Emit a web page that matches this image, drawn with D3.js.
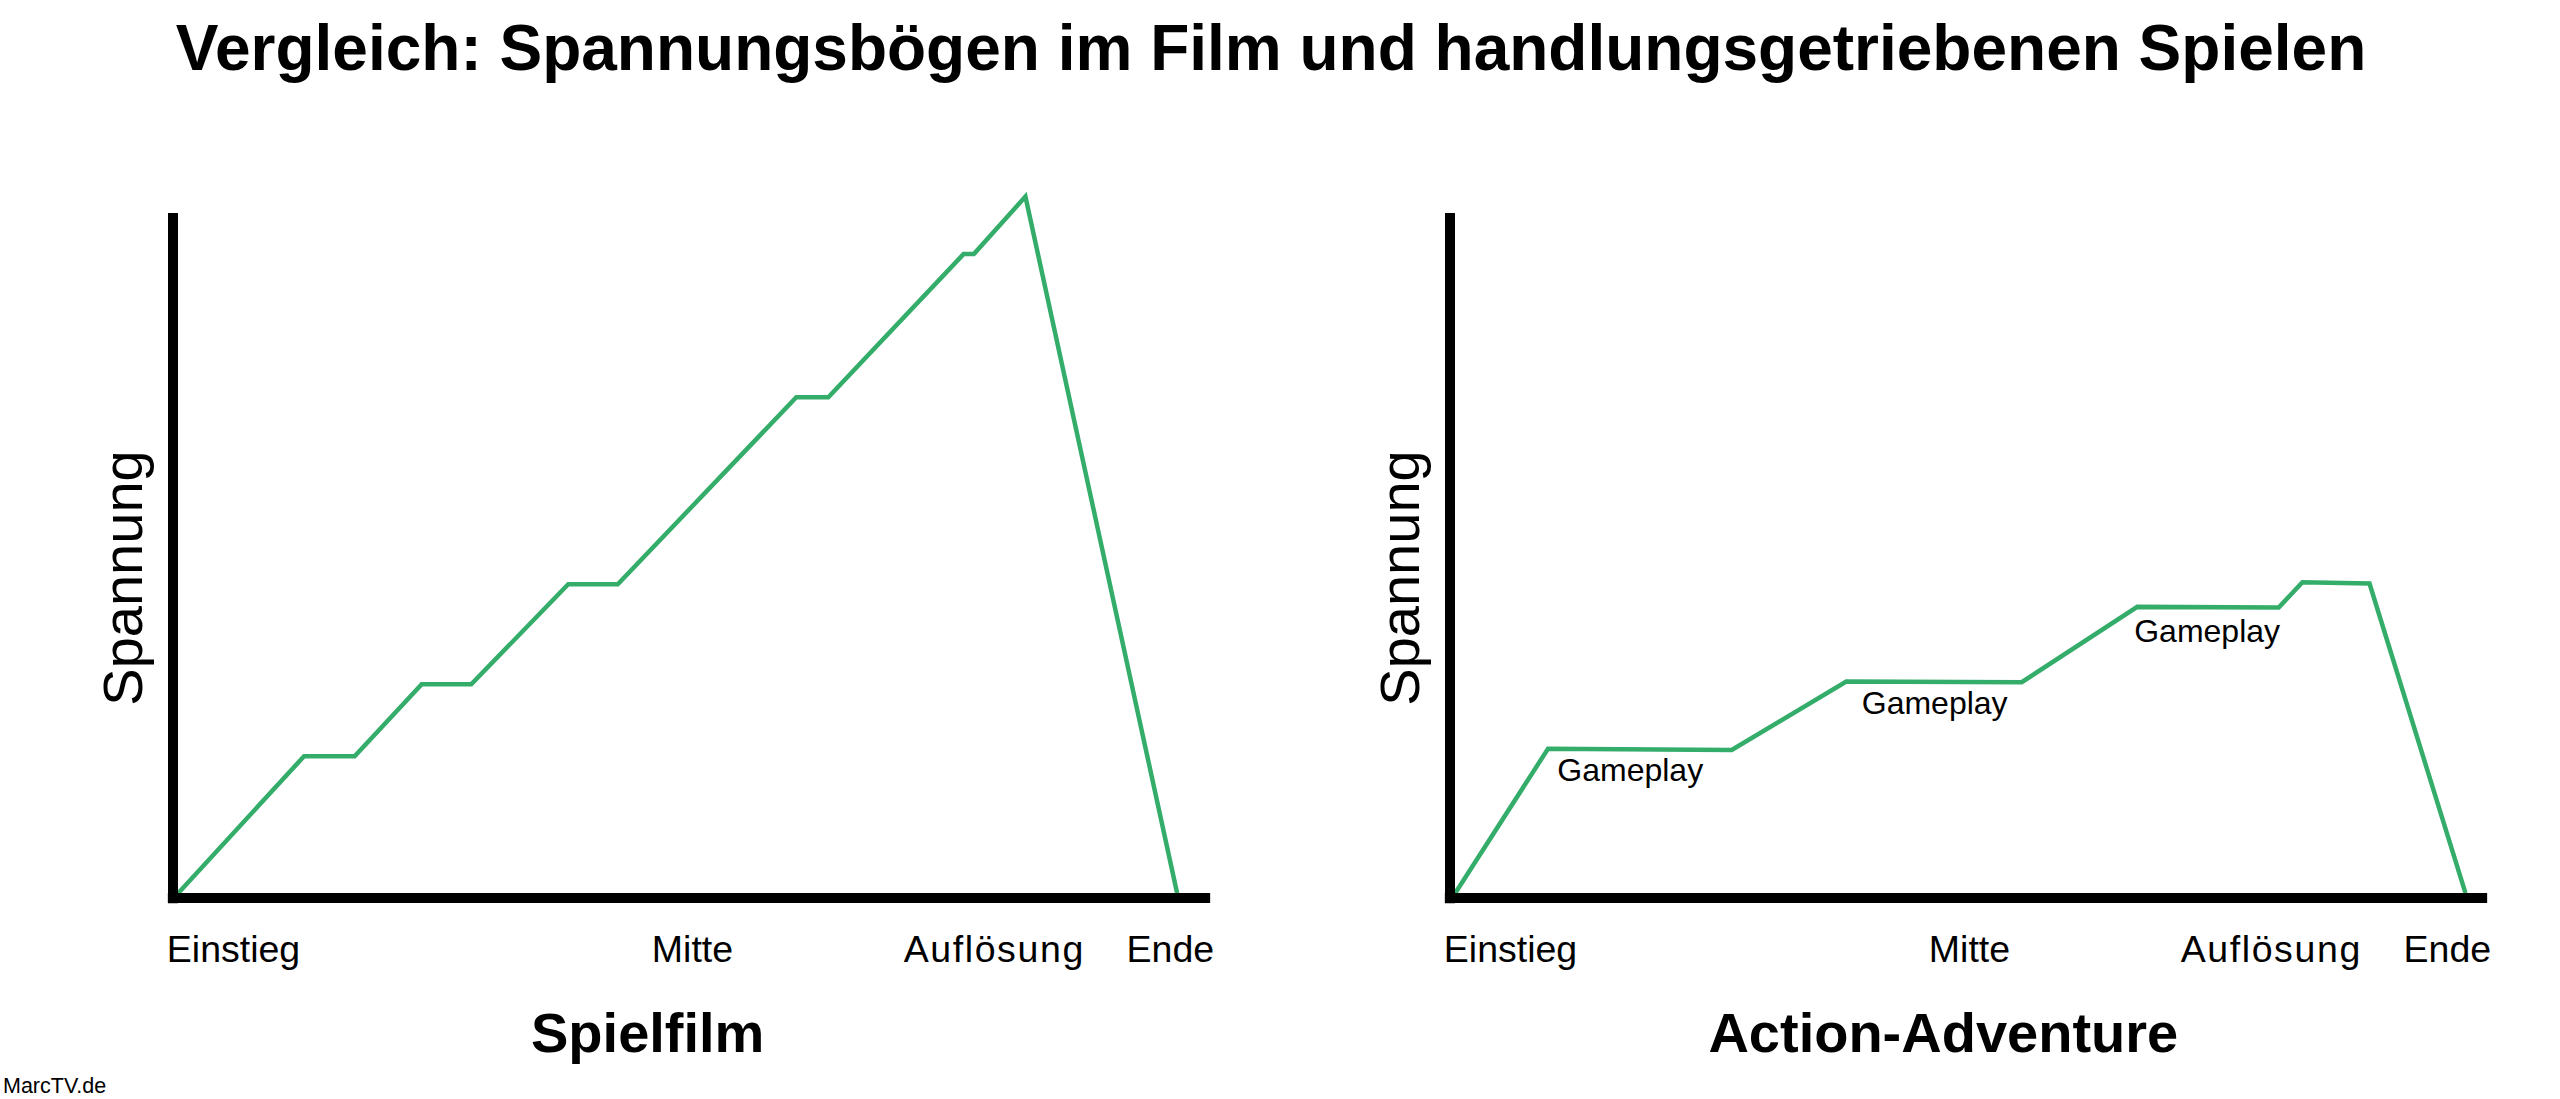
<!DOCTYPE html>
<html>
<head>
<meta charset="utf-8">
<script src="https://cdn.jsdelivr.net/npm/d3@7"></script>
<style>
  html, body { margin: 0; padding: 0; background: #fff; }
  svg { display: block; }
  text { font-family: "Liberation Sans", Arial, Helvetica, sans-serif; fill: #000; }
</style>
</head>
<body>
<svg id="chart" width="2560" height="1099"></svg>
<script>
// ---- data ----
const titleText = "Vergleich: Spannungsbögen im Film und handlungsgetriebenen Spielen";
const sourceText = "MarcTV.de";
const panelTitles = ["Spielfilm", "Action-Adventure"];
const panelTitleAt = [46.0, 47.8];          // story-time centre of each panel title
const yAxisLabel = "Spannung";

const phaseLabels = ["Einstieg", "Mitte", "Auflösung", "Ende"];
const phaseAt = [-0.6, 46.4, 70.8, 92.4];   // story time (0–100) where each label starts

// Spielfilm: story time (0–100) and tension (0–100)
const filmTime    = [0.5, 12.7, 17.6, 24.1, 28.9, 38.3, 43.1, 60.4, 63.5, 76.6, 77.6, 82.6, 97.3];
const filmTension = [0.7, 20.7, 20.7, 31.2, 31.2, 45.8, 45.8, 73.1, 73.1, 94.0, 94.0, 102.4, 0.7];

// Action-Adventure
const gameTime    = [0.5, 9.5, 27.3, 38.4, 55.4, 66.6, 80.3, 82.6, 89.1, 98.4];
const gameTension = [0.7, 21.8, 21.6, 31.6, 31.5, 42.5, 42.4, 46.1, 45.9, 0.7];

// "Gameplay" annotations (Action-Adventure)
const gameplayLabel = "Gameplay";
const gameplayTime    = [10.4, 39.9, 66.3];
const gameplayTension = [17.1, 26.9, 37.4];

// ---- drawing ----
const svg = d3.select("#chart");
const green = "#34ad6a";

svg.append("text")
  .attr("x", 1271).attr("y", 70)
  .attr("text-anchor", "middle")
  .style("font-size", "64px").style("font-weight", "bold")
  .text(titleText);

svg.append("text")
  .attr("x", 3).attr("y", 1093)
  .style("font-size", "21.5px")
  .text(sourceText);

const x = d3.scaleLinear().domain([0, 100]).range([173, 1205]);
const y = d3.scaleLinear().domain([0, 100]).range([898, 213]);

const panels = [
  { offset: 0,    time: filmTime, tension: filmTension, title: panelTitles[0], titleAt: panelTitleAt[0], notes: false },
  { offset: 1277, time: gameTime, tension: gameTension, title: panelTitles[1], titleAt: panelTitleAt[1], notes: true }
];

const line = d3.line().x(d => x(d[0])).y(d => y(d[1]));

panels.forEach(p => {
  const g = svg.append("g").attr("transform", `translate(${p.offset},0)`);

  // data line
  const pts = p.time.map((t, i) => [t, p.tension[i]]);
  g.append("path")
    .datum(pts)
    .attr("d", line)
    .attr("fill", "none")
    .attr("stroke", green)
    .attr("stroke-width", 4.5)
    .attr("stroke-linejoin", "miter");

  // axes
  g.append("line")
    .attr("x1", x(0)).attr("x2", x(0))
    .attr("y1", y(-0.75)).attr("y2", y(100))
    .attr("stroke", "#000").attr("stroke-width", 10);
  g.append("line")
    .attr("x1", x(-0.5)).attr("x2", x(100.5))
    .attr("y1", y(0)).attr("y2", y(0))
    .attr("stroke", "#000").attr("stroke-width", 10);

  // phase labels
  g.selectAll("text.phase")
    .data(phaseLabels)
    .join("text")
    .attr("class", "phase")
    .attr("x", (d, i) => x(phaseAt[i]))
    .attr("y", 962)
    .style("font-size", "37.5px")
    .style("letter-spacing", d => d === "Auflösung" ? "1.6px" : null)
    .text(d => d);

  // y label
  g.append("text")
    .attr("transform", `translate(${x(0) - 31},578) rotate(-90)`)
    .attr("text-anchor", "middle")
    .style("font-size", "56px")
    .text(yAxisLabel);

  // panel title
  g.append("text")
    .attr("x", x(p.titleAt)).attr("y", 1052)
    .attr("text-anchor", "middle")
    .style("font-size", "56px").style("font-weight", "bold")
    .text(p.title);

  if (p.notes) {
    g.selectAll("text.note")
      .data(gameplayTime)
      .join("text")
      .attr("class", "note")
      .attr("x", (d) => x(d))
      .attr("y", (d, i) => y(gameplayTension[i]))
      .style("font-size", "32px")
      .text(gameplayLabel);
  }
});
</script>
</body>
</html>
